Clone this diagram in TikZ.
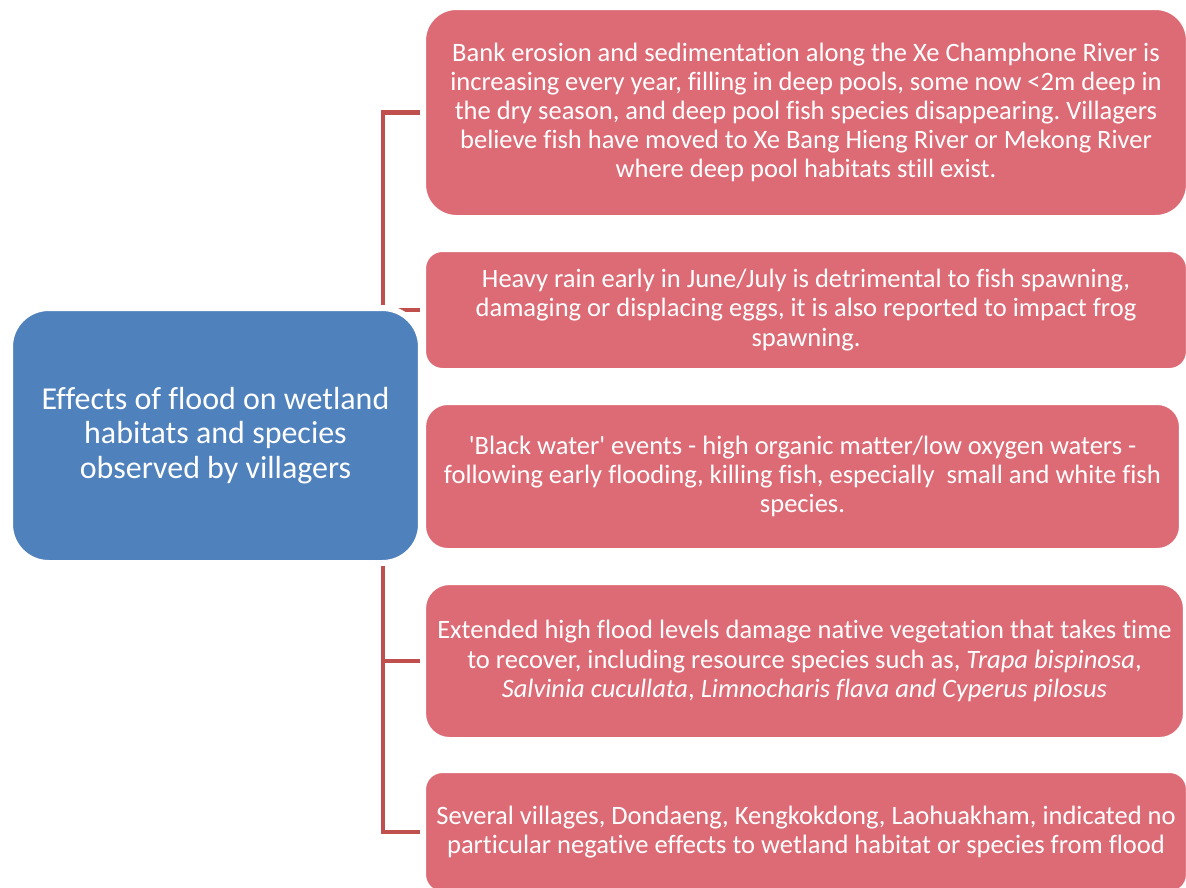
\documentclass[tikz,border=0pt]{standalone}
\usepackage{fontspec}
\setmainfont{Carlito}[Ligatures={TeXOff,CommonOff,ContextualOff}]
\frenchspacing
\usetikzlibrary{backgrounds}
\definecolor{rootblue}{RGB}{79,129,189}
\definecolor{itempink}{RGB}{221,107,118}
\definecolor{linkred}{RGB}{192,80,77}

\begin{document}
\begin{tikzpicture}[x=0.02cm, y=-0.02cm,
  root/.style={draw=white, line width=3.4pt, fill=rootblue, text=white, align=center,
               inner sep=0pt, font=\fontsize{18.2}{19.6}\selectfont},
  item/.style={draw=white, line width=3.4pt, fill=itempink, text=white, align=center,
               inner sep=0pt, font=\fontsize{15.1}{16.6}\selectfont},
  link/.style={draw=linkred, line width=2.3pt, line join=miter}
]
  \useasboundingbox (0,0) rectangle (1186,887);

  % Central topic
  \node[root, minimum width=8.22cm, minimum height=5.10cm, rounded corners=22pt] (effects) at (215.5,435.5)
    {Effects of flood on wetland\\habitats and species\\observed by villagers};

  % Observations
  \node[item, minimum width=15.32cm, minimum height=4.22cm, rounded corners=19pt] (erosion) at (806,112.5)
    {Bank erosion and sedimentation along the Xe Champhone River is\\
     increasing every year, filling in deep pools, some now <2m deep in\\
     the dry season, and deep pool fish species disappearing. Villagers\\
     believe fish have moved to Xe Bang Hieng River or Mekong River\\
     where deep pool habitats still exist.};
  \node[item, minimum width=15.32cm, minimum height=2.44cm, rounded corners=11pt] (rain) at (806,310)
    {Heavy rain early in June/July is detrimental to fish spawning,\\
     damaging or displacing eggs, it is also reported to impact frog\\
     spawning.};
  \node[item, minimum width=15.18cm, minimum height=2.98cm, rounded corners=14pt] (blackwater) at (802.5,476.5)
    {'Black water' events - high organic matter/low oxygen waters -\\
     following early flooding, killing fish, especially\ \ small and white fish\\
     species.};
  \node[item, minimum width=15.26cm, minimum height=3.16cm, rounded corners=15pt] (vegetation) at (804.5,661)
    {Extended high flood levels damage native vegetation that takes time\\
     to recover, including resource species such as, \textit{Trapa bispinosa},\\
     \textit{Salvinia cucullata}, \textit{Limnocharis flava and Cyperus pilosus}};
  \node[item, minimum width=15.32cm, minimum height=2.48cm, rounded corners=11pt] (noeffect) at (806,832)
    {Several villages, Dondaeng, Kengkokdong, Laohuakham, indicated no\\
     particular negative effects to wetland habitat or species from flood};

  % Bracket behind the boxes
  \coordinate (spine) at (383,0);
  \begin{scope}[on background layer]
    \draw[link] (erosion.west) -- (erosion.west -| spine) -- (noeffect.west -| spine) -- (noeffect.west);
    \foreach \obs in {rain,blackwater,vegetation}
      \draw[link] (\obs.west -| spine) -- (\obs.west);
  \end{scope}
\end{tikzpicture}
\end{document}
